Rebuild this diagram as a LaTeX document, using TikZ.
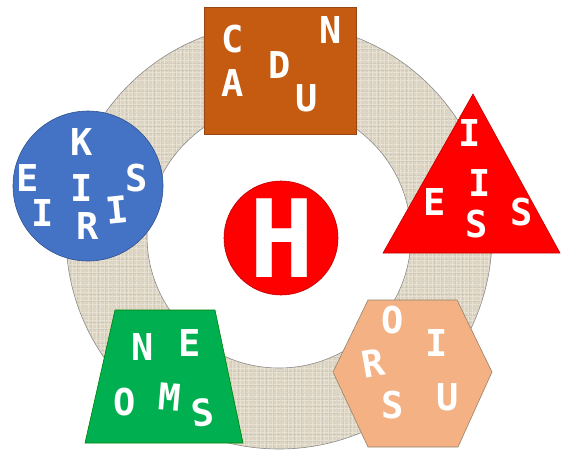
\documentclass[tikz,border=0pt]{standalone}
\usepackage{fontspec}
\newfontfamily\lett{DejaVu Sans Mono}
\definecolor{ringtan}{RGB}{221,211,190}
\definecolor{ringedge}{RGB}{140,140,140}
\definecolor{brownfill}{RGB}{197,90,17}
\definecolor{brownedge}{RGB}{150,70,20}
\definecolor{bluefill}{RGB}{68,114,196}
\definecolor{blueedge}{RGB}{47,82,143}
\definecolor{greenfill}{RGB}{0,176,80}
\definecolor{peachfill}{RGB}{244,177,131}
\definecolor{peachedge}{RGB}{150,130,110}
\definecolor{redfill}{RGB}{255,0,0}
\definecolor{rededge}{RGB}{192,0,0}
\begin{document}
\begin{tikzpicture}[x=1pt,y=-1pt,
  lt/.style={text=white,font=\lett\bfseries\fontsize{37}{37}\selectfont,inner sep=0pt},
  bigh/.style={text=white,font=\lett\bfseries\fontsize{108}{108}\selectfont,inner sep=0pt},
  shapeedge/.style={line width=0.6pt}]
\useasboundingbox (0,0) rectangle (561,450);
\coordinate (c) at (279,236);
% ring
\fill[ringtan,even odd rule] (c) circle[radius=213] (c) circle[radius=132];
\begin{scope}[even odd rule]
  \clip (c) circle[radius=213] (c) circle[radius=132];
  \draw[white,opacity=0.35,line width=0.4pt,step=4pt] (60,20) grid (500,452);
  \draw[black!40,opacity=0.15,line width=0.3pt,step=7pt] (60,20) grid (500,452);
\end{scope}
\draw[ringedge,line width=0.6pt] (c) circle[radius=213] (c) circle[radius=132];
% shapes
\draw[shapeedge,brownedge,fill=brownfill] (204,7) rectangle (356,134);
\draw[shapeedge,blueedge,fill=bluefill] (88,186) circle[radius=75];
\draw[shapeedge,rededge,fill=redfill] (473,94) -- (383,253) -- (560,253) -- cycle;
\draw[shapeedge,green!50!black,fill=greenfill] (115,310) -- (215,310) -- (243,443) -- (85,443) -- cycle;
\draw[shapeedge,peachedge,fill=peachfill] (368,300) -- (457,300) -- (492,372) -- (458,447) -- (368,447) -- (333,372) -- cycle;
\draw[shapeedge,rededge,fill=redfill] (281,238) circle[radius=57];
% center letter
\node[bigh] (h) at (282,238) {H};
% brown square letters
\node[lt] (b1) at (233,39) {C};
\node[lt] (b2) at (280,65) {D};
\node[lt] (b3) at (331,30) {N};
\node[lt] (b4) at (233,83) {A};
\node[lt] (b5) at (307,98) {U};
% blue circle letters
\node[lt] (k1) at (82,142) {K};
\node[lt] (k2) at (28,178) {E};
\node[lt] (k3) at (82,188) {I};
\node[lt] (k4) at (137,178) {S};
\node[lt] (k5) at (43,213) {I};
\node[lt] (k6) at (88,226) {R};
\node[lt,rotate=6] (k7) at (117,210) {I};
% triangle letters
\node[lt] (t1) at (470,133) {I};
\node[lt] (t2) at (480,183) {I};
\node[lt] (t3) at (435,202) {E};
\node[lt] (t4) at (477,224) {S};
\node[lt] (t5) at (522,212) {S};
% trapezoid letters
\node[lt] (g1) at (143,347) {N};
\node[lt] (g2) at (190,343) {E};
\node[lt] (g3) at (125,402) {O};
\node[lt,rotate=-5] (g4) at (170,397) {M};
\node[lt,rotate=8] (g5) at (203,413) {S};
% hexagon letters
\node[lt] (o1) at (393,320) {O};
\node[lt] (o2) at (437,343) {I};
\node[lt,rotate=10] (o3) at (373,363) {R};
\node[lt] (o4) at (393,405) {S};
\node[lt] (o5) at (448,397) {U};
\end{tikzpicture}
\end{document}
